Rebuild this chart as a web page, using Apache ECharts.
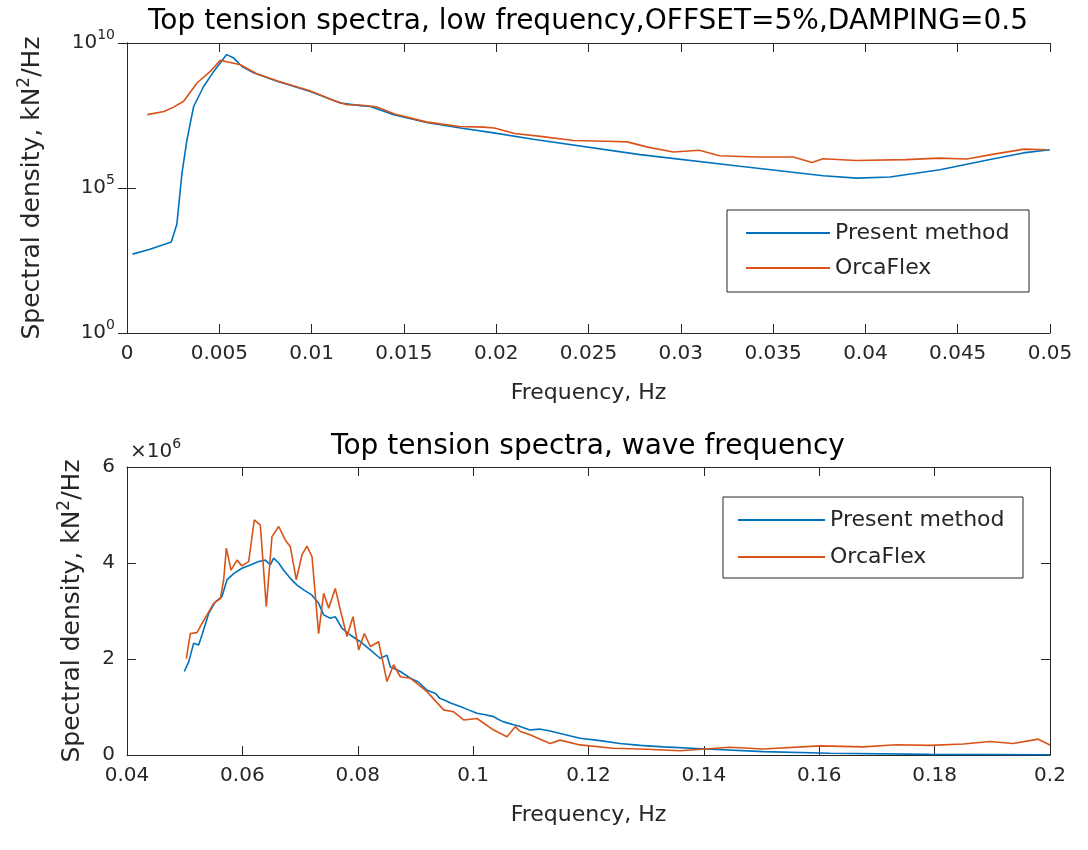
<!DOCTYPE html>
<html>
<head>
<meta charset="utf-8">
<script src="https://cdn.jsdelivr.net/npm/echarts@6/dist/echarts.min.js"></script>
<style>html,body{margin:0;padding:0;background:#fff}#c{width:1088px;height:850px}</style>
</head>
<body>
<div id="c"></div>
<script>
// ---------- DATA ----------
// Top panel: [frequency Hz, log10(spectral density kN^2/Hz)]
const topPresent = [
  [0.0003,2.72],[0.0012,2.88],[0.0024,3.14],[0.0027,3.75],[0.00298,5.52],[0.00325,6.67],
  [0.00361,7.81],[0.00415,8.50],[0.0047,9.02],[0.00515,9.40],[0.0054,9.60],[0.00578,9.48],
  [0.00623,9.19],[0.00686,8.97],[0.00813,8.68],[0.00993,8.33],[0.01156,7.93],[0.01264,7.84],
  [0.01318,7.81],[0.01445,7.53],[0.01623,7.26],[0.01806,7.07],[0.01986,6.90],[0.0220,6.68],
  [0.02779,6.15],[0.03321,5.75],[0.03772,5.42],[0.03952,5.34],[0.04133,5.38],[0.04404,5.63],
  [0.04675,5.98],[0.04855,6.21],[0.05,6.32]
];
const topOrca = [
  [0.0011,7.53],[0.002,7.64],[0.0025,7.78],[0.00307,7.99],[0.00379,8.62],[0.00451,9.02],
  [0.00505,9.40],[0.0056,9.33],[0.00614,9.25],[0.0070,8.95],[0.0082,8.68],[0.0099,8.35],
  [0.0112,8.02],[0.0119,7.87],[0.0126,7.86],[0.0135,7.80],[0.0145,7.55],[0.0162,7.28],
  [0.018,7.12],[0.0193,7.10],[0.0199,7.07],[0.0210,6.88],[0.0224,6.78],[0.0242,6.64],
  [0.0260,6.61],[0.0271,6.59],[0.0282,6.41],[0.0296,6.24],[0.0310,6.30],[0.0321,6.11],
  [0.0341,6.07],[0.0361,6.07],[0.0371,5.88],[0.0377,6.01],[0.0395,5.95],[0.0422,5.98],
  [0.0440,6.03],[0.0455,6.00],[0.0468,6.15],[0.0486,6.34],[0.0498,6.32]
];

// Bottom panel: [frequency Hz, spectral density x10^6 kN^2/Hz]
const botPresent = [
  [0.04994,1.74],[0.0507,1.94],[0.05156,2.33],[0.05242,2.29],[0.053,2.5],[0.05416,2.95],
  [0.05531,3.19],[0.05647,3.30],[0.05733,3.65],[0.05849,3.78],[0.05993,3.89],[0.06138,3.96],
  [0.06282,4.03],[0.06398,4.06],[0.06485,3.96],[0.06542,4.10],[0.06629,4.00],[0.06716,3.85],
  [0.06831,3.68],[0.06947,3.54],[0.07062,3.44],[0.07207,3.33],[0.07322,3.16],[0.07409,2.92],
  [0.07524,2.85],[0.07611,2.88],[0.07727,2.64],[0.07871,2.50],[0.08045,2.36],[0.08218,2.19],
  [0.08391,2.01],[0.08507,2.08],[0.08564,1.84],[0.08738,1.74],[0.08911,1.60],[0.0905,1.52],
  [0.092,1.35],[0.0935,1.28],[0.0942,1.18],[0.09489,1.15],[0.0962,1.08],[0.09778,1.01],
  [0.0992,0.94],[0.10067,0.87],[0.1021,0.84],[0.10356,0.80],[0.1044,0.74],[0.10529,0.69],
  [0.10702,0.63],[0.1080,0.60],[0.10985,0.52],[0.1115,0.54],[0.11333,0.50],[0.1160,0.42],
  [0.11853,0.35],[0.1220,0.30],[0.12546,0.24],[0.1290,0.20],[0.13297,0.17],[0.14048,0.125],
  [0.1503,0.07],[0.16185,0.035],[0.17918,0.014],[0.2,0.005]
];
const botOrca = [
  [0.05028,2.01],[0.05098,2.53],[0.05213,2.55],[0.053,2.74],[0.05387,2.92],[0.05502,3.16],
  [0.05618,3.26],[0.05676,3.65],[0.05722,4.31],[0.05803,3.85],[0.05907,4.06],[0.05993,3.94],
  [0.06109,4.03],[0.06207,4.90],[0.06311,4.79],[0.06415,3.09],[0.06513,4.55],[0.06629,4.76],
  [0.06744,4.48],[0.06831,4.34],[0.06935,3.65],[0.07033,4.17],[0.0712,4.35],[0.07207,4.13],
  [0.07322,2.53],[0.07409,3.37],[0.07496,3.06],[0.07611,3.47],[0.07698,3.02],[0.07813,2.47],
  [0.07917,2.88],[0.08016,2.19],[0.08114,2.53],[0.08218,2.26],[0.08362,2.36],[0.08507,1.53],
  [0.08622,1.88],[0.08738,1.63],[0.08911,1.60],[0.092,1.32],[0.09489,0.94],[0.09662,0.90],
  [0.09836,0.73],[0.10067,0.76],[0.10356,0.52],[0.10587,0.38],[0.1073,0.59],[0.10818,0.49],
  [0.10986,0.42],[0.11333,0.24],[0.11506,0.31],[0.11853,0.21],[0.1243,0.14],[0.13008,0.12],
  [0.13586,0.09],[0.14452,0.16],[0.1503,0.125],[0.16012,0.19],[0.16763,0.17],[0.17341,0.215],
  [0.17918,0.20],[0.18496,0.23],[0.18958,0.28],[0.19362,0.24],[0.19795,0.33],[0.2,0.21]
];

const seriesNames = ['Present method','OrcaFlex'];
const titles = ['Top tension spectra, low frequency,OFFSET=5%,DAMPING=0.5','Top tension spectra, wave frequency'];
const xName = 'Frequency, Hz';
const yName = 'Spectral density, kN{s|2}/Hz';

// ---------- CHART ----------
const FONT = '"DejaVu Sans", "Liberation Sans", Arial, sans-serif';
const AX = '#262626';
const BLUE = '#0072BD', ORANGE = '#D95319';
const TICK_FS = 20, XLABEL_FS = 22, YLABEL_FS = 25, TITLE_FS = 28, LEG_FS = 22;
const fmtNum = v => String(+v.toFixed(4));
const supT = {fontSize: 14, verticalAlign: 'top', fontFamily: FONT, color: AX};
const supL = {fontSize: 17, verticalAlign: 'top', fontFamily: FONT, color: AX};

function xAx(grid, min, max, interval, pos, labels) {
  return {
    gridIndex: grid, type: 'value', min, max, interval, position: pos,
    axisLine: {onZero: false, lineStyle: {color: AX, width: 1}},
    axisTick: {inside: true, length: 9, lineStyle: {color: AX}},
    splitLine: {show: false},
    axisLabel: {show: labels, color: AX, fontSize: TICK_FS, fontFamily: FONT, margin: 11, formatter: fmtNum},
    name: labels ? xName : '', nameLocation: 'middle', nameGap: 49,
    nameTextStyle: {fontSize: XLABEL_FS, fontFamily: FONT, color: AX}
  };
}
function yName_(gap) {
  return {
    name: yName, nameLocation: 'middle', nameGap: gap, nameRotate: 90,
    nameTextStyle: {fontSize: YLABEL_FS, fontFamily: FONT, color: AX, lineHeight: 32, rich: {s: supL}}
  };
}

const chart = echarts.init(document.getElementById('c'), null, {renderer: 'canvas'});
const logLabel = v => '{b|10}{s|' + Math.round(Math.log10(v)) + '}';

const legendBase = {
  data: seriesNames, orient: 'vertical', icon: 'rect', itemHeight: 2,
  borderColor: AX, borderWidth: 1, backgroundColor: '#fff', selectedMode: false
};

const option = {
  animation: false,
  backgroundColor: '#fff',
  grid: [
    {left: 127, top: 43, width: 923, height: 290},
    {left: 127, top: 467, width: 923, height: 288}
  ],
  xAxis: [
    xAx(0, 0, 0.05, 0.005, 'bottom', true),
    xAx(0, 0, 0.05, 0.005, 'top', false),
    xAx(1, 0.04, 0.2, 0.02, 'bottom', true),
    xAx(1, 0.04, 0.2, 0.02, 'top', false)
  ],
  yAxis: [
    Object.assign({
      gridIndex: 0, type: 'log', logBase: 10, min: 1, max: 1e10, interval: 5, position: 'left',
      axisLine: {lineStyle: {color: AX}}, axisTick: {inside: true, length: 9, lineStyle: {color: AX}},
      minorTick: {show: false}, splitLine: {show: false},
      axisLabel: {color: AX, fontSize: TICK_FS, fontFamily: FONT, margin: 12, formatter: logLabel,
        rich: {b: {fontSize: TICK_FS, lineHeight: 30, fontFamily: FONT, color: AX}, s: supT}}
    }, yName_(79)),
    {
      gridIndex: 0, type: 'log', logBase: 10, min: 1, max: 1e10, interval: 5, position: 'right',
      axisLine: {lineStyle: {color: AX}}, axisTick: {inside: true, length: 9, lineStyle: {color: AX}},
      splitLine: {show: false}, axisLabel: {show: false}
    },
    Object.assign({
      gridIndex: 1, type: 'value', min: 0, max: 6, interval: 2, position: 'left',
      axisLine: {onZero: false, lineStyle: {color: AX}}, axisTick: {inside: true, length: 9, lineStyle: {color: AX}},
      splitLine: {show: false},
      axisLabel: {color: AX, fontSize: TICK_FS, fontFamily: FONT, margin: 12}
    }, yName_(39)),
    {
      gridIndex: 1, type: 'value', min: 0, max: 6, interval: 2, position: 'right',
      axisLine: {onZero: false, lineStyle: {color: AX}}, axisTick: {inside: true, length: 9, lineStyle: {color: AX}},
      splitLine: {show: false}, axisLabel: {show: false}
    }
  ],
  legend: [
    Object.assign({}, legendBase, {
      left: 727, top: 210, itemWidth: 84, itemGap: 11, padding: [11, 10, 12, 19],
      textStyle: {fontSize: LEG_FS, fontFamily: FONT, color: AX, lineHeight: 24, width: 184}
    }),
    Object.assign({}, legendBase, {
      left: 723, top: 497, itemWidth: 87, itemGap: 13, padding: [11, 10, 9, 15],
      textStyle: {fontSize: LEG_FS, fontFamily: FONT, color: AX, lineHeight: 24, width: 183}
    })
  ],
  series: [
    {name: seriesNames[0], type: 'line', xAxisIndex: 0, yAxisIndex: 0, symbol: 'none',
     lineStyle: {color: BLUE, width: 1.6}, itemStyle: {color: BLUE},
     data: topPresent.map(d => [d[0], Math.pow(10, d[1])])},
    {name: seriesNames[1], type: 'line', xAxisIndex: 0, yAxisIndex: 0, symbol: 'none',
     lineStyle: {color: ORANGE, width: 1.6}, itemStyle: {color: ORANGE},
     data: topOrca.map(d => [d[0], Math.pow(10, d[1])])},
    {name: seriesNames[0], type: 'line', xAxisIndex: 2, yAxisIndex: 2, symbol: 'none',
     lineStyle: {color: BLUE, width: 1.6}, itemStyle: {color: BLUE}, data: botPresent},
    {name: seriesNames[1], type: 'line', xAxisIndex: 2, yAxisIndex: 2, symbol: 'none',
     lineStyle: {color: ORANGE, width: 1.6}, itemStyle: {color: ORANGE}, data: botOrca}
  ],
  graphic: [
    {type: 'text', x: 588, y: 22, style: {text: titles[0], fontSize: TITLE_FS, fontFamily: FONT, fill: '#000',
      textAlign: 'center', textVerticalAlign: 'middle'}},
    {type: 'text', x: 588, y: 447, style: {text: titles[1], fontSize: TITLE_FS, fontFamily: FONT, fill: '#000',
      textAlign: 'center', textVerticalAlign: 'middle'}},
    {type: 'text', x: 130, y: 452, style: {text: '{a|×10}{s|6}', fontSize: TICK_FS, fontFamily: FONT, fill: AX,
      textVerticalAlign: 'middle',
      rich: {a: {fontSize: TICK_FS, lineHeight: 30, fontFamily: FONT, fill: AX}, s: {fontSize: 14, verticalAlign: 'top', fontFamily: FONT, fill: AX}}}}
  ]
};
chart.setOption(option);
</script>
</body>
</html>
